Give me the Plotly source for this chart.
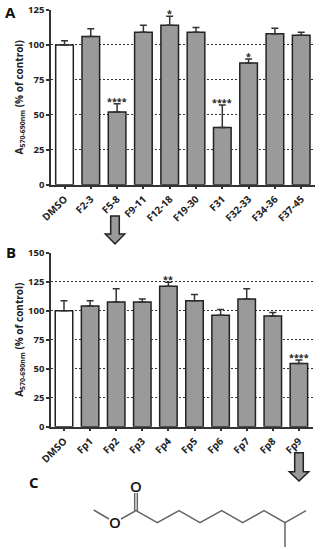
import plotly.graph_objects as go

W, H = 320, 550

cats_a = ["DMSO", "F2-3", "F5-8", "F9-11", "F12-18", "F19-30", "F31", "F32-33", "F34-36", "F37-45"]
vals_a = [100, 106, 52, 109, 114, 109, 41, 87, 108, 107]
errs_a = [3, 5.5, 6, 5, 6.5, 3.5, 16, 3, 4, 2]
sig_a = ["", "", "****", "", "*", "", "****", "*", "", ""]

cats_b = ["DMSO", "Fp1", "Fp2", "Fp3", "Fp4", "Fp5", "Fp6", "Fp7", "Fp8", "Fp9"]
vals_b = [100, 104, 107.5, 107.5, 121, 108.5, 96, 110, 95.5, 54.5]
errs_b = [8.5, 4.5, 11.5, 2.5, 3.5, 5.5, 5, 9, 3, 3]
sig_b = ["", "", "", "", "**", "", "", "", "", "****"]

DARK = "#333333"
GREY = "#9a9a9c"
FONT = "Open Sans"


def px(x):
    return x / W


def py(y):
    return 1 - y / H


def poly(points, fill=None, color=DARK, width=1.5):
    path = "M " + " L ".join(f"{px(x):.4f},{py(y):.4f}" for x, y in points)
    if fill:
        path += " Z"
    return dict(type="path", xref="paper", yref="paper", path=path,
                fillcolor=fill if fill else "rgba(0,0,0,0)",
                line=dict(color=color, width=width), layer="above")


def arrow(cx, top, neck, tip):
    return poly([(cx - 4.3, top), (cx + 4.3, top), (cx + 4.3, neck), (cx + 9.7, neck),
                 (cx, tip), (cx - 9.7, neck), (cx - 4.3, neck)], fill=GREY, color="#222222", width=1.5)


fig = go.Figure()


def add_panel(cats, vals, errs, xa, ya):
    fig.add_trace(go.Bar(
        x=cats, y=vals, xaxis=xa, yaxis=ya,
        marker=dict(color=["#ffffff"] + [GREY] * (len(cats) - 1),
                    line=dict(color="#222222", width=1.5)),
        error_y=dict(type="data", symmetric=False, array=errs, arrayminus=[0] * len(errs),
                     color=DARK, thickness=1.5, width=3.5),
        showlegend=False, hoverinfo="skip",
    ))


add_panel(cats_a, vals_a, errs_a, "x", "y")
add_panel(cats_b, vals_b, errs_b, "x2", "y2")

tick = dict(family=FONT, size=9.5, color="#222222", weight=700)
xtick = dict(family=FONT, size=10, color="#222222", weight=700)
title_font = dict(family=FONT, size=10, color="#222222", weight=700)
ytitle = "A<sub>570-690nm</sub> (% of control)"


def yax(domain, rng, dtick):
    return dict(domain=domain, range=rng, dtick=dtick, showline=True, linecolor=DARK,
                linewidth=1.5, ticks="outside", ticklen=3, tickcolor=DARK, tickwidth=1.5,
                showgrid=True, gridcolor="#333333", griddash="2px,2px", gridwidth=1.2,
                zeroline=False, tickfont=tick,
                title=dict(text=ytitle, font=title_font, standoff=3))


def xax(domain, rng):
    return dict(domain=domain, range=rng, type="category", showline=True, linecolor=DARK, linewidth=1.5,
                ticks="outside", ticklen=3, tickcolor=DARK, tickwidth=1.5, tickangle=-45,
                tickfont=xtick, showgrid=False, zeroline=False)


annotations = []


def add_sig(sig, cats, vals, errs, xr, yr, off):
    for c, v, e, s in zip(cats, vals, errs, sig):
        if s:
            annotations.append(dict(x=c, y=v + e, xref=xr, yref=yr, text=s, showarrow=False,
                                    yanchor="bottom", yshift=off,
                                    font=dict(family=FONT, size=9, color="#222222", weight=700)))


add_sig(sig_a, cats_a, vals_a, errs_a, "x", "y", -6)
add_sig(sig_b, cats_b, vals_b, errs_b, "x2", "y2", -6)

for label, x, y, size in [("A", 10.7, 12, 15), ("B", 10.7, 252, 15), ("C", 34, 482, 15),
                          ("O", 136, 486, 15), ("O", 115, 522, 15)]:
    annotations.append(dict(x=px(x), y=py(y), xref="paper", yref="paper", text=label, showarrow=False,
                            xanchor="center", yanchor="middle",
                            font=dict(family=FONT, size=size, color="#111111", weight=700 if label != "O" else 600)))

# Chemical structure and connecting arrows: decorative drawing in page pixels
mol = "#666666"
shapes = [
    arrow(115, 216, 234, 244),
    arrow(299, 452.7, 471.7, 481),
    poly([(93.7, 510), (109, 519)], color=mol),
    poly([(121, 519), (136, 510.7), (157.3, 522.7), (179, 510.7), (200, 522.7),
          (221.7, 510.7), (242.7, 522.7), (264, 510.7), (285, 522.7), (306, 510.7)], color=mol),
    poly([(285, 522.7), (285, 547)], color=mol),
    poly([(134.7, 511), (134.7, 493)], color=mol),
    poly([(137.3, 511), (137.3, 493)], color=mol),
]

xrange_a = [(51 - 64.5) / 26.3, (315 - 64.5) / 26.3]
xrange_b = [(51 - 64) / 26.1, (313 - 64) / 26.1]

fig.update_layout(
    width=W, height=H, margin=dict(l=0, r=0, t=0, b=0, autoexpand=False),
    paper_bgcolor="white", plot_bgcolor="rgba(0,0,0,0)",
    bargap=0.33, showlegend=False,
    xaxis=xax([px(51), px(315)], xrange_a),
    xaxis2=xax([px(51), px(313)], xrange_b),
    yaxis=yax([py(184.7), py(10)], [0, 125], 25),
    yaxis2=yax([py(426.7), py(252.7)], [0, 150], 25),
    annotations=annotations, shapes=shapes,
)
fig.layout.xaxis.anchor = "y"
fig.layout.yaxis.anchor = "x"
fig.layout.xaxis2.anchor = "y2"
fig.layout.yaxis2.anchor = "x2"

fig.write_html("out.html", config=dict(displayModeBar=False, responsive=False),
               post_script="document.body.style.margin='0';document.documentElement.style.overflow='hidden';")
